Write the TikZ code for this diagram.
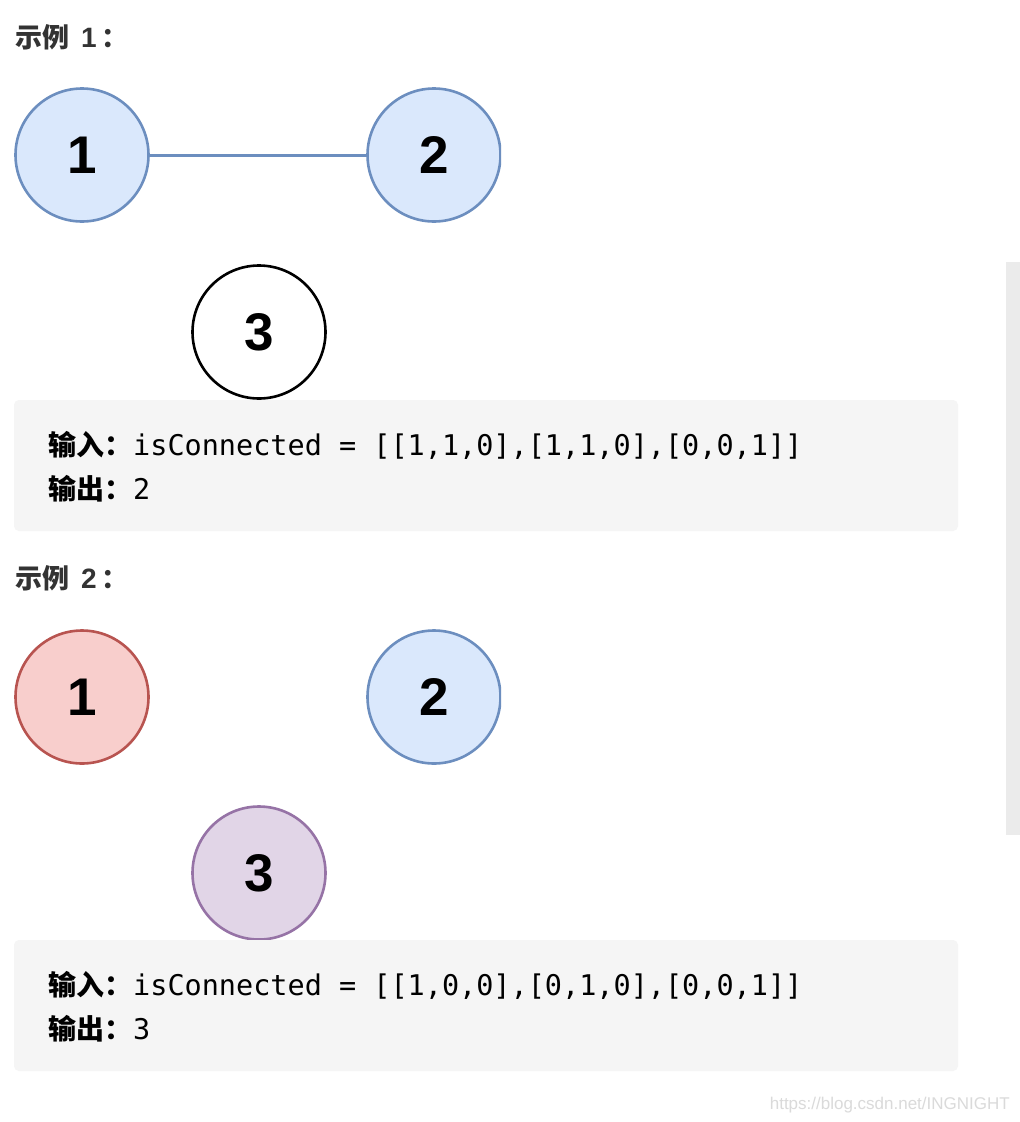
\documentclass[tikz,border=0pt]{standalone}
\usepackage{fontspec}
\newfontfamily\cjk{Noto Sans CJK SC}
\newfontfamily\mono{DejaVu Sans Mono}
\newfontfamily\numfont{Liberation Sans}
\definecolor{bluefill}{HTML}{DAE8FC}
\definecolor{bluedraw}{HTML}{6C8EBF}
\definecolor{redfill}{HTML}{F8CECC}
\definecolor{reddraw}{HTML}{B85450}
\definecolor{purfill}{HTML}{E1D5E7}
\definecolor{purdraw}{HTML}{9673A6}
\definecolor{boxgray}{HTML}{F5F5F5}
\definecolor{titlegray}{HTML}{333333}
\definecolor{scrollgray}{HTML}{EBEBEB}
\definecolor{wmgray}{HTML}{DADADA}
\tikzset{
  vertex/.style={circle, minimum size=133pt, inner sep=0pt, line width=2.6pt,
    font=\numfont\bfseries\fontsize{53}{53}\selectfont},
  bluev/.style={vertex, draw=bluedraw, fill=bluefill},
  redv/.style={vertex, draw=reddraw, fill=redfill},
  purv/.style={vertex, draw=purdraw, fill=purfill},
  plainv/.style={vertex, draw=black, fill=white},
  title/.style={anchor=base west, inner sep=0pt, text=titlegray,
    font=\cjk\bfseries\fontsize{27}{27}\selectfont},
  codebox/.style={fill=boxgray, rounded corners=5pt},
  codeline/.style={anchor=base west, inner sep=0pt, text=black,
    font=\fontsize{28.5}{28.5}\selectfont},
  edge/.style={draw=bluedraw, line width=3pt}
}
\newcommand{\zhlabel}[1]{\makebox[85pt][l]{\cjk\bfseries\fontsize{28}{28}\selectfont #1}}
\newcommand{\titlenum}[1]{{\numfont\bfseries\fontsize{28}{28}\selectfont #1}}
\begin{document}
\begin{tikzpicture}[x=1pt,y=-1pt]
\useasboundingbox (0,0) rectangle (1020,1122);
\fill[white] (0,0) rectangle (1020,1122);
% scrollbar
\fill[scrollgray] (1006,262) rectangle (1020,835);

% Example 1
\node[title] (t1) at (15,47) {示例\hspace{12pt}\titlenum{1}\hspace{5pt}：};
\begin{scope}
\clip (0,0) rectangle (501,1122);
\node[bluev] (a1) at (82,155) {1};
\node[bluev] (a2) at (434,155) {2};
\node[plainv] (a3) at (259,332) {3};
\draw[edge] (a1) -- (a2);
\end{scope}
\fill[codebox] (14,400) rectangle (958,531);
\node[codeline] (in1) at (48,455) {\zhlabel{输入：}\mono isConnected = [[1,1,0],[1,1,0],[0,0,1]]};
\node[codeline] (out1) at (48,499) {\zhlabel{输出：}\mono 2};

% Example 2
\node[title] (t2) at (15,588) {示例\hspace{12pt}\titlenum{2}\hspace{5pt}：};
\begin{scope}
\clip (0,0) rectangle (501,1122);
\node[redv] (b1) at (82,697) {1};
\node[bluev] (b2) at (434,697) {2};
\node[purv] (b3) at (259,873) {3};
\end{scope}
\fill[codebox] (14,940) rectangle (958,1071);
\node[codeline] (in2) at (48,995) {\zhlabel{输入：}\mono isConnected = [[1,0,0],[0,1,0],[0,0,1]]};
\node[codeline] (out2) at (48,1039) {\zhlabel{输出：}\mono 3};

% watermark
\node[anchor=base east, inner sep=0pt, text=wmgray, font=\numfont\fontsize{17}{17}\selectfont] (wm) at (1010,1109) {https://blog.csdn.net/INGNIGHT};
\end{tikzpicture}
\end{document}
